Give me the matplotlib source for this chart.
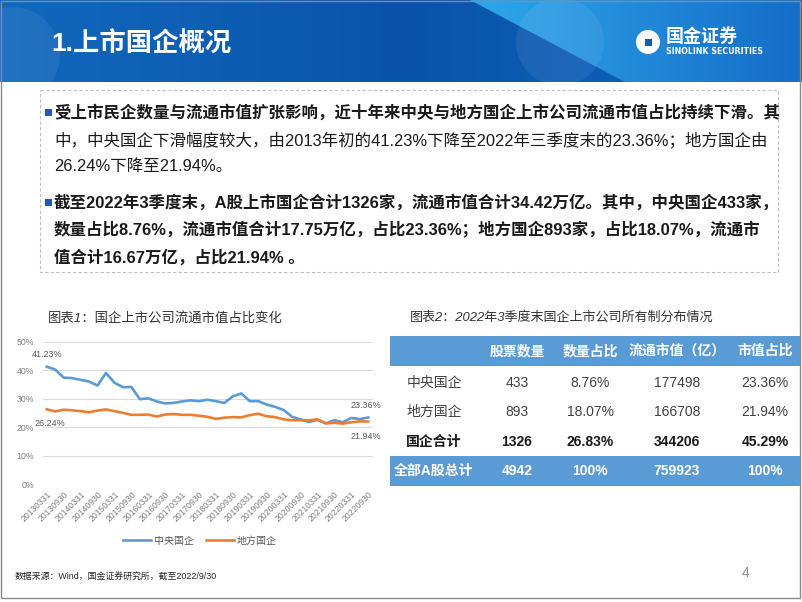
import matplotlib
matplotlib.use('Agg')
import matplotlib.pyplot as plt
import numpy as np
from matplotlib.patches import Rectangle, Circle, Polygon

plt.rcParams['font.family'] = ['Noto Sans CJK SC', 'DejaVu Sans']

# ---------------- data ----------------
quarters = ['20130331', '20130630', '20130930', '20131231', '20140331', '20140630',
            '20140930', '20141231', '20150331', '20150630', '20150930', '20151231',
            '20160331', '20160630', '20160930', '20161231', '20170331', '20170630',
            '20170930', '20171231', '20180331', '20180630', '20180930', '20181231',
            '20190331', '20190630', '20190930', '20191231', '20200331', '20200630',
            '20200930', '20201231', '20210331', '20210630', '20210930', '20211231',
            '20220331', '20220630', '20220930']
central_soe = [41.23, 40.2, 37.4, 37.2, 36.6, 36.0, 34.6, 39.0, 35.6, 34.0, 34.1, 29.8,
               30.1, 29.0, 28.3, 28.5, 29.0, 29.4, 29.1, 29.6, 29.1, 28.5, 30.8, 31.8,
               29.1, 29.1, 27.9, 27.1, 26.0, 23.6, 22.7, 21.8, 22.5, 21.3, 22.4, 21.7,
               23.2, 22.8, 23.36]
local_soe = [26.24, 25.5, 26.1, 25.9, 25.6, 25.2, 25.8, 26.2, 25.6, 25.0, 24.3, 24.3,
             24.4, 23.7, 24.4, 24.6, 24.3, 24.3, 24.0, 23.6, 22.9, 23.3, 23.5, 23.4,
             24.2, 24.7, 23.8, 23.5, 22.7, 22.4, 22.4, 22.4, 22.7, 21.3, 21.5, 21.2,
             21.7, 22.0, 21.94]
series_names = ['中央国企', '地方国企']

table_header = ['股票数量', '数量占比', '流通市值（亿）', '市值占比']
table_rows = ['中央国企', '地方国企', '国企合计', '全部A股总计']
stock_count = ['433', '893', '1326', '4942']
count_share = ['8.76%', '18.07%', '26.83%', '100%']
float_mv = ['177498', '166708', '344206', '759923']
mv_share = ['23.36%', '21.94%', '45.29%', '100%']

title = '1.上市国企概况'
para1 = ['受上市民企数量与流通市值扩张影响，近十年来中央与地方国企上市公司流通市值占比持续下滑。其',
         '中，中央国企下滑幅度较大，由2013年初的41.23%下降至2022年三季度末的23.36%；地方国企由',
         '26.24%下降至21.94%。']
para2 = ['截至2022年3季度末，A股上市国企合计1326家，流通市值合计34.42万亿。其中，中央国企433家，',
         '数量占比8.76%，流通市值合计17.75万亿，占比23.36%；地方国企893家，占比18.07%，流通市',
         '值合计16.67万亿，占比21.94% 。']
chart1_title = '图表1：国企上市公司流通市值占比变化'
chart2_title = '图表2：2022年3季度末国企上市公司所有制分布情况'
source = '数据来源：Wind，国金证券研究所，截至2022/9/30'

MIX = ['Liberation Sans', 'Noto Sans CJK SC', 'DejaVu Sans']
CJK = ['Noto Sans CJK SC', 'DejaVu Sans']

# ---------------- figure ----------------
W, H = 802, 602
fig = plt.figure(figsize=(W / 100, H / 100), dpi=100)
fig.patch.set_facecolor('white')

ov = fig.add_axes([0, 0, 1, 1], zorder=0)
ov.axis('off')

# banner gradient
BH = 82
xs = np.linspace(0, 1, 400)
c0 = np.array([18, 104, 190]) / 255
c1 = np.array([9, 84, 170]) / 255
c2 = np.array([16, 100, 192]) / 255
grad = np.where(xs[:, None] < 0.5,
                c0 + (c1 - c0) * (xs[:, None] / 0.5),
                c1 + (c2 - c1) * ((xs[:, None] - 0.5) / 0.5))
ov.imshow(np.tile(grad[None, :, :], (10, 1, 1)), extent=(0, W, BH, 0), aspect='auto', zorder=0)

l0 = np.array([48, 168, 234]) / 255
l1 = np.array([20, 108, 200]) / 255
lg = l0 + (l1 - l0) * xs[:, None]
poly = Polygon([(470, 0), (W, 0), (W, BH), (625, BH)], closed=True, transform=ov.transData,
               fc='none', ec='none')
ov.add_patch(poly)
im2 = ov.imshow(np.tile(lg[None, :, :], (10, 1, 1)), extent=(470, W, BH, 0), aspect='auto', zorder=1)
im2.set_clip_path(poly)
ov.add_patch(Circle((560, 42), 44, fc='white', alpha=0.07, ec='none', zorder=2))
ov.add_patch(Circle((12, 55), 48, fc='white', alpha=0.07, ec='none', zorder=2))

ov.text(51, 44, title, color='white', fontsize=19, fontweight='bold', va='center', ha='left',
        family=MIX, zorder=3)

# logo
ov.add_patch(Circle((648, 42), 12, fc='white', ec='none', zorder=3))
ov.add_patch(Rectangle((645, 39), 7, 7, fc='#0f5cb0', ec='none', zorder=4))
ov.text(666, 36, '国金证券', color='white', fontsize=13, fontweight='bold', va='center',
        ha='left', family=CJK, zorder=3)
ov.text(666, 52, 'SINOLINK SECURITIES', color='white', fontsize=5.7, fontweight='bold',
        va='center', ha='left', family=['DejaVu Sans'], zorder=3)

# text box
ov.add_patch(Rectangle((40, 90), 738, 182, fill=False, ec='#BFBFBF', ls=(0, (3, 2)), lw=0.8))
ys1 = [112, 140, 166]
ys2 = [202, 230, 257]
for y in (ys1[0], ys2[0]):
    ov.add_patch(Rectangle((45, y - 3.5), 6.5, 7, fc='#1F5AB8', ec='none'))
for i, (t, y) in enumerate(zip(para1, ys1)):
    ov.text(54, y, t, fontsize=11.85, fontweight='bold' if i == 0 else 'normal',
            color='#1a1a1a', va='center', ha='left', family=MIX)
for t, y in zip(para2, ys2):
    ov.text(54, y, t, fontsize=11.85, fontweight='bold', color='#1a1a1a', va='center',
            ha='left', family=MIX)

# chart titles
ov.text(48, 318, chart1_title, fontsize=9.6, style='italic', color='#333333', va='center',
        ha='left', family=MIX)
ov.text(410, 318, chart2_title, fontsize=9.4, style='italic', color='#333333', va='center',
        ha='left', family=MIX)

# table
blue = '#5B9BD5'
ov.add_patch(Rectangle((390, 336), 410, 30, fc=blue, ec='none'))
ov.add_patch(Rectangle((390, 456), 410, 30, fc=blue, ec='none'))
col_x = [434, 517, 590, 677, 765]
for cx, h in zip(col_x[1:], table_header):
    ov.text(cx, 351, h, color='white', fontsize=10, fontweight='bold', ha='center', va='center',
            family=MIX)
row_y = [383, 412, 442, 471]
cols = [stock_count, count_share, float_mv, mv_share]
for r, (lab, y) in enumerate(zip(table_rows, row_y)):
    if r == 3:
        color, weight = 'white', 'bold'
    elif r == 2:
        color, weight = '#1a1a1a', 'bold'
    else:
        color, weight = '#404040', 'normal'
    ov.text(col_x[0], y, lab, color=color, fontsize=10, fontweight=weight, ha='center',
            va='center', family=MIX)
    for cx, col in zip(col_x[1:], cols):
        ov.text(cx, y, col[r], color=color, fontsize=10, fontweight=weight, ha='center',
                va='center', family=MIX)

# footer
ov.text(15, 577, source, fontsize=6.4, color='#262626', va='center', ha='left', family=MIX)
ov.text(745, 573, '4', fontsize=10, color='#8c8c8c', va='center', ha='center', family=MIX)
ov.add_patch(Rectangle((1, 1), 799, 597, fill=False, ec='#8a8a8a', lw=1.0, zorder=5))

ov.set_xlim(0, W)
ov.set_ylim(H, 0)

# ---------------- line chart ----------------
x0, x1 = 42.5, 372.5
ytop, ybot = 341.7, 484
ax = fig.add_axes([x0 / W, 1 - ybot / H, (x1 - x0) / W, (ybot - ytop) / H], zorder=1)
ax.patch.set_alpha(0)
idx = np.arange(len(quarters))
ax.plot(idx, central_soe, color='#5B9BD5', lw=1.9, label=series_names[0], solid_joinstyle='round')
ax.plot(idx, local_soe, color='#ED7D31', lw=1.9, label=series_names[1], solid_joinstyle='round')
ax.set_xlim(-0.5, len(quarters) - 0.5)
ax.set_ylim(0, 50)
ax.set_yticks([0, 10, 20, 30, 40, 50])
ax.set_yticklabels(['0%', '10%', '20%', '30%', '40%', '50%'], family=MIX, fontsize=6.3,
                   color='#7f7f7f')
ax.set_xticks(idx[::2])
ax.set_xticklabels(quarters[::2], rotation=45, ha='right', rotation_mode='anchor',
                   family=MIX, fontsize=6.2, color='#7f7f7f')
ax.tick_params(length=0, pad=6)
ax.tick_params(axis='x', pad=4)
ax.grid(axis='y', color='#D9D9D9', lw=0.8)
ax.set_axisbelow(True)
for s in ax.spines.values():
    s.set_visible(False)

lab_kw = dict(textcoords='offset pixels', ha='center', va='center', fontsize=6.5,
              color='#595959', family=MIX)
ax.annotate(f'{central_soe[0]:.2f}%', xy=(0, central_soe[0]), xytext=(0, 12), **lab_kw)
ax.annotate(f'{local_soe[0]:.2f}%', xy=(0, local_soe[0]), xytext=(3, -14), **lab_kw)
ax.annotate(f'{central_soe[-1]:.2f}%', xy=(idx[-1], central_soe[-1]), xytext=(-2, 12), **lab_kw)
ax.annotate(f'{local_soe[-1]:.2f}%', xy=(idx[-1], local_soe[-1]), xytext=(-2, -15), **lab_kw)

leg = ax.legend(loc='center', bbox_to_anchor=(0.477, -0.40), ncol=2, frameon=False,
                prop={'family': CJK, 'size': 7.2}, handlelength=2.8, columnspacing=1.2,
                handletextpad=0.3)
for t in leg.get_texts():
    t.set_color('#595959')

fig.savefig('out.png', dpi=100)
